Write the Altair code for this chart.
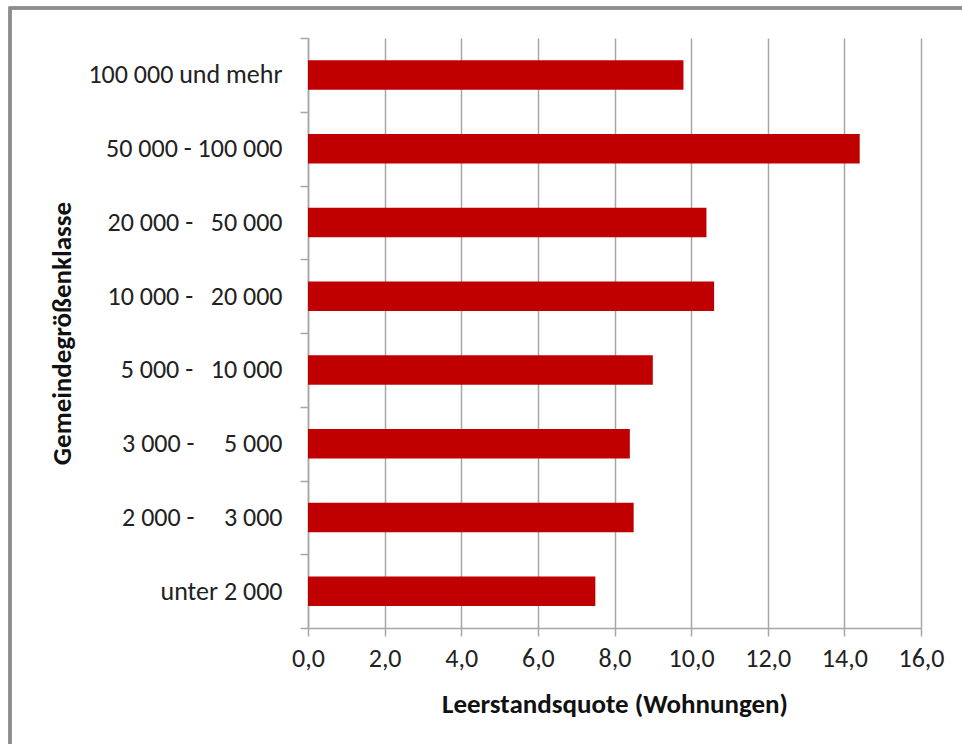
import altair as alt
import pandas as pd

# Gemeindegrößenklassen, top to bottom
klassen = [
    "100 000 und mehr",
    "50 000 - 100 000",
    "20 000 -\u00a0\u00a0\u00a050 000",
    "10 000 -\u00a0\u00a0\u00a020 000",
    "5 000 -\u00a0\u00a0\u00a010 000",
    "3 000 -\u00a0\u00a0\u00a0\u00a0\u00a05 000",
    "2 000 -\u00a0\u00a0\u00a0\u00a0\u00a03 000",
    "unter 2 000",
]
# Leerstandsquote in Prozent
quote = [9.8, 14.4, 10.4, 10.6, 9.0, 8.4, 8.5, 7.5]
x_ticks = [0, 2, 4, 6, 8, 10, 12, 14, 16]

df = pd.DataFrame({"klasse": klassen, "quote": quote})

FONT = "Carlito, Lato, Liberation Sans, sans-serif"
GRID = "#a6a6a6"
W, H = 613, 590
LEFT, TOP = 308, 38

bars = alt.Chart(df).mark_bar(color="#c00000", height={"band": 0.4}).encode(
    x=alt.X(
        "quote:Q",
        scale=alt.Scale(domain=[0, 16], nice=False),
        axis=alt.Axis(
            values=x_ticks,
            labelExpr="replace(format(datum.value, '.1f'), '.', ',')",
            title="Leerstandsquote (Wohnungen)",
            grid=True,
            gridColor=GRID,
            gridWidth=1.5,
            domainColor=GRID,
            domainWidth=1.5,
            tickColor=GRID,
            tickWidth=1.5,
            tickSize=8,
            labelPadding=9,
            labelFontSize=26,
            labelFlush=False,
            labelOverlap=False,
            labelColor="#222222",
            labelFont=FONT,
            titleFont=FONT,
            titleFontSize=27,
            titleFontWeight="bold",
            titleColor="#111111",
            titleBaseline="middle",
            titleY=76,
        ),
    ),
    y=alt.Y(
        "klasse:N",
        sort=klassen,
        scale=alt.Scale(paddingInner=0, paddingOuter=0),
        axis=alt.Axis(
            title="Gemeindegrößenklasse",
            tickBand="extent",
            grid=False,
            domainColor=GRID,
            domainWidth=1.5,
            tickColor=GRID,
            tickWidth=1.5,
            tickSize=8,
            labelPadding=18,
            labelFontSize=26,
            labelLimit=400,
            labelColor="#222222",
            labelFont=FONT,
            titleFont=FONT,
            titleFontSize=27,
            titleFontWeight="bold",
            titleColor="#111111",
            titleBaseline="middle",
            titleX=-246,
            titleY=H / 2,
        ),
    ),
)

# outer chart frame
frame = alt.Chart(df).mark_rect(
    fill=None, stroke="#8c8c8c", strokeWidth=2.5, clip=False
).encode(
    x=alt.value(10 - LEFT),
    x2=alt.value(990 - LEFT),
    y=alt.value(8 - TOP),
    y2=alt.value(770 - TOP),
)

chart = (
    alt.layer(frame, bars)
    .properties(
        width=W,
        height=H,
        autosize=alt.AutoSizeParams(type="none"),
        padding={"left": LEFT, "top": TOP, "right": 962 - LEFT - W, "bottom": 744 - TOP - H},
        background="white",
    )
    .configure_view(stroke=None)
)

chart.save("out.html", embed_options={"renderer": "svg", "actions": False})
